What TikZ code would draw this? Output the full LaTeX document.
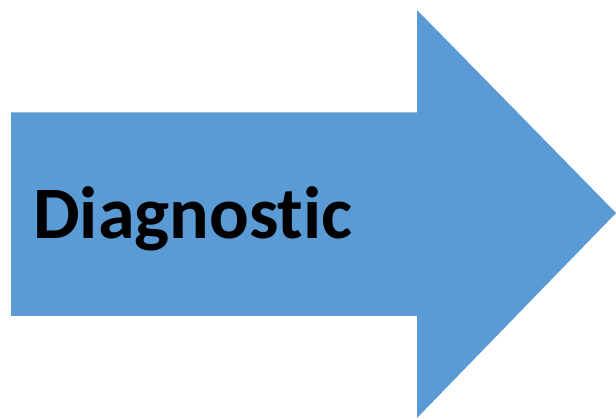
\documentclass[tikz,border=0pt]{standalone}
\usepackage{fontspec}
\usepackage{xcolor}
\setmainfont{Carlito}[Ligatures=NoCommon]
\definecolor{arrowblue}{RGB}{91,155,213}

\begin{document}
\begin{tikzpicture}[x=1pt,y=1pt]
            \useasboundingbox (0,0) rectangle (616,419);
            \fill[arrowblue] (11,306.5) -- (417,306.5) -- (417,409) -- (616,206) -- (417,1) -- (417,103) -- (11,103) -- cycle;
            \node[anchor=base west, inner sep=0pt, font=\fontsize{74}{80}\selectfont\bfseries] (label) at (33,180) {Diagnostic};
        \end{tikzpicture}
\end{document}
